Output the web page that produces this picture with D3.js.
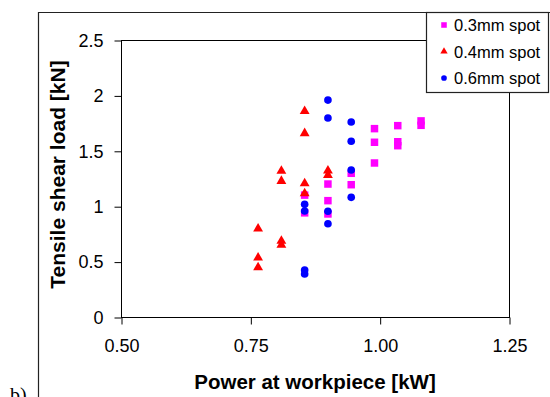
<!DOCTYPE html>
<html>
<head>
<meta charset="utf-8">
<script src="https://cdn.jsdelivr.net/npm/d3@7"></script>
<style>
  body { margin: 0; background: #fff; }
  svg { display: block; font-family: "Liberation Sans", Arial, sans-serif; }
</style>
</head>
<body>
<div id="chart"></div>
<script>
// data: [power kW, load kN]
var spot03 = [[0.855,1.10],[0.855,0.94],[0.9,1.20],[0.9,1.05],[0.9,0.93],
              [0.945,1.297],[0.945,1.194],[0.99,1.70],[0.99,1.577],[0.99,1.39],
              [1.035,1.727],[1.035,1.582],[1.035,1.546],[1.08,1.77],[1.08,1.73]];
var spot04 = [[0.765,0.797],[0.765,0.535],[0.765,0.448],
              [0.81,1.318],[0.81,1.227],[0.81,0.686],[0.81,0.65],
              [0.855,1.857],[0.855,1.658],[0.855,1.206],[0.855,1.116],
              [0.9,1.32],[0.9,1.28]];
var spot06 = [[0.855,1.017],[0.855,0.957],[0.855,0.424],[0.855,0.388],
              [0.9,1.958],[0.9,1.796],[0.9,0.954],[0.9,0.842],
              [0.945,1.76],[0.945,1.586],[0.945,1.327],[0.945,1.08]];
var seriesNames = ['0.3mm spot','0.4mm spot','0.6mm spot'];
var xTicks = [0.5,0.75,1.0,1.25];
var yTicks = [0,0.5,1,1.5,2,2.5];

const width = 550, height = 397;
const pLeft = 121, pRight = 509, pTop = 40, pBottom = 317;

var svg = d3.select('#chart').append('svg')
    .attr('width', width).attr('height', height);

var x = d3.scaleLinear().domain([0.5,1.25]).range([pLeft,pRight]);
var y = d3.scaleLinear().domain([0,2.5]).range([pBottom,pTop]);

// outer frame (left + top edge of the figure panel)
svg.append('path')
    .attr('d', 'M38.5,' + height + 'V12.5H' + width)
    .attr('fill','none').attr('stroke','#222').attr('stroke-width',1.2);

// panel label, cut by the bottom edge like in the source figure
svg.append('text').text('b)')
    .attr('x', 10).attr('y', 402)
    .style('font-family','"Liberation Serif", "Times New Roman", serif')
    .style('font-size','20px');

// plot box
svg.append('rect')
    .attr('x', pLeft + 0.5).attr('y', pTop + 0.5)
    .attr('width', pRight - pLeft).attr('height', pBottom - pTop)
    .attr('fill','none').attr('stroke','#000').attr('stroke-width',1);

var xAxis = svg.append('g')
    .attr('transform','translate(0.5,' + (pBottom + 0.5) + ')')
    .call(d3.axisBottom(x).tickValues(xTicks).tickSize(7).tickPadding(15)
        .tickFormat(d3.format('.2f')));
var yAxis = svg.append('g')
    .attr('transform','translate(' + (pLeft + 0.5) + ',0.5)')
    .call(d3.axisLeft(y).tickValues(yTicks).tickSize(7).tickPadding(11)
        .tickFormat(function(d){ return d; }));
[xAxis, yAxis].forEach(function(g){
    g.select('.domain').remove();
    g.selectAll('line').attr('stroke','#000');
    g.selectAll('text').attr('fill','#000')
        .style('font-family','"Liberation Sans", Arial, sans-serif')
        .style('font-size','18px');
});

// axis titles
svg.append('text').text('Power at workpiece [kW]')
    .attr('x', (pLeft + pRight) / 2).attr('y', 389)
    .attr('text-anchor','middle')
    .style('font-weight','bold').style('font-size','20.5px');
svg.append('text').text('Tensile shear load [kN]')
    .attr('transform','translate(65,' + ((pTop + pBottom) / 2 - 4) + ') rotate(-90)')
    .attr('text-anchor','middle')
    .style('font-weight','bold').style('font-size','21px');

// markers
var series = [
    {data: spot03, color: '#ff00ff', shape: d3.symbolSquare, size: 56},
    {data: spot04, color: '#ff0000', shape: d3.symbolTriangle, size: 42},
    {data: spot06, color: '#0000ff', shape: d3.symbolCircle, size: 46}
];
series.forEach(function(s){
    svg.append('g').selectAll('path')
        .data(s.data)
        .enter()
        .append('path')
        .attr('transform', function(d){ return 'translate(' + x(d[0]) + ',' + y(d[1]) + ')'; })
        .attr('d', d3.symbol().type(s.shape).size(s.size))
        .attr('fill', s.color);
});

// legend
var legend = svg.append('g');
legend.append('rect')
    .attr('x', 426.5).attr('y', 12.5).attr('width', 122).attr('height', 80)
    .attr('fill','#fff').attr('stroke','#222').attr('stroke-width',1.2);
var rows = legend.selectAll('g.row')
    .data(series)
    .enter()
    .append('g')
    .attr('class','row')
    .attr('transform', function(d,i){ return 'translate(444,' + (25 + i * 26.5) + ')'; });
rows.append('path')
    .attr('d', function(d){ return d3.symbol().type(d.shape).size(d.size * 0.55)(); })
    .attr('fill', function(d){ return d.color; });
rows.append('text')
    .text(function(d,i){ return seriesNames[i]; })
    .attr('x', 10).attr('y', 6)
    .style('font-size','16.5px');
</script>
</body>
</html>
